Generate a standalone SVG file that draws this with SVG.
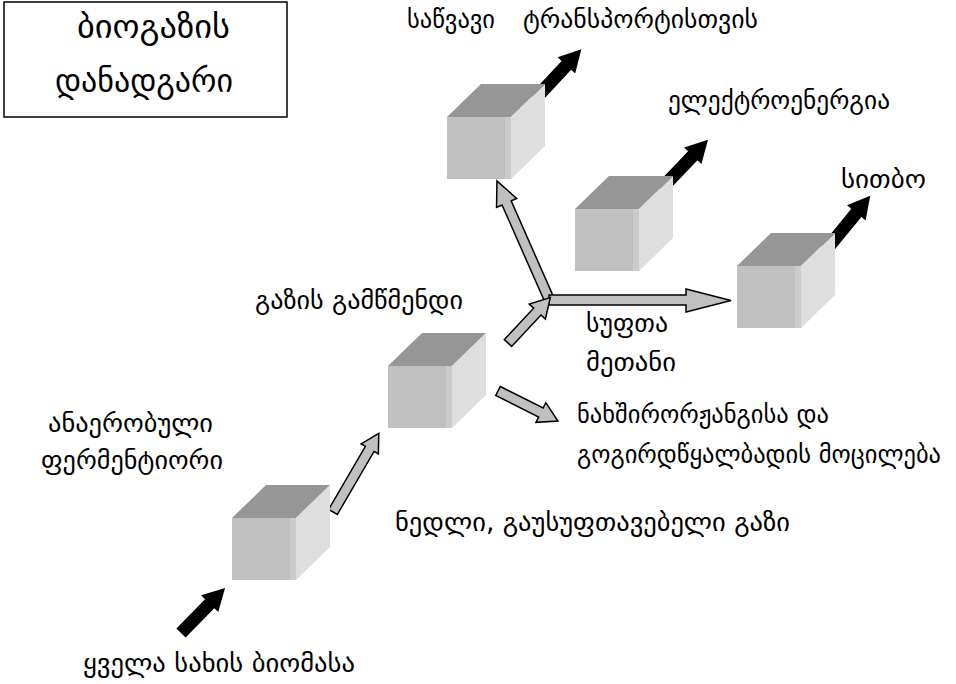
<svg xmlns="http://www.w3.org/2000/svg" xmlns:xlink="http://www.w3.org/1999/xlink" width="956" height="684" viewBox="0 0 956 684">
<style>
text{font-family:"DejaVu Sans","Noto Sans",sans-serif;font-size:26px;fill:#000}
.title{font-size:33px}
.long{font-size:24.5px}
.ga{fill:#c0c0c0;stroke:#000;stroke-width:1.5;stroke-linejoin:miter}
.ba{fill:#000}
.top{fill:#969696}
.front{fill:#c0c0c0}
.bevel{fill:#cbcbcb}
.right{fill:#dedede}
</style>
<defs>
<g id="cube">
<polygon class="top" points="0,0 34,-33 98,-33 64,0"/>
<rect class="front" x="0" y="0" width="64" height="62"/>
<rect class="bevel" x="58" y="0" width="6" height="62"/>
<polygon class="right" points="64,0 98,-33 98,29 64,62"/>
</g>
</defs>
<rect id="title-box" x="4" y="2" width="283" height="115" fill="#fff" stroke="#000" stroke-width="1.5"/>
<g id="title">
<text class="title" x="77" y="38" textLength="153" lengthAdjust="spacingAndGlyphs">ბიოგაზის</text>
<text class="title" x="55" y="92" textLength="178" lengthAdjust="spacingAndGlyphs">დანადგარი</text>
</g>
<g id="connectors">
<polygon class="ba" transform="translate(181,633) rotate(-45.6)" points="0,-6.5 41,-6.5 41,-12 63,0 41,12 41,6.5 0,6.5"/>
<polygon class="ba" transform="translate(535,99) rotate(-47)" points="0,-6.5 46,-6.5 46,-12 68,0 46,12 46,6.5 0,6.5"/>
<polygon class="ba" transform="translate(661,189) rotate(-46.3)" points="0,-6.5 46,-6.5 46,-12 68,0 46,12 46,6.5 0,6.5"/>
<polygon class="ba" transform="translate(826,250) rotate(-50.8)" points="0,-6.5 48,-6.5 48,-12 70,0 48,12 48,6.5 0,6.5"/>
<polygon class="ga" transform="translate(333,512) rotate(-59.8)" points="0,-5 73,-5 73,-10 91,0 73,10 73,5 0,5"/>
<polygon class="ga" transform="translate(498,391) rotate(26.6)" points="0,-5 48,-5 48,-11 67,0 48,11 48,5 0,5"/>
<polygon class="ga" transform="translate(549,299) rotate(-113.8)" points="0,-5 105,-5 105,-11 129,0 105,11 105,5 0,5"/>
<polygon class="ga" points="549,295 686,295 686,289 731,300.5 686,312 686,305 549,305"/>
<polygon class="ga" transform="translate(508,343) rotate(-47)" points="0,-5 43,-5 43,-11 62,0 43,11 43,5 0,5"/>
</g>
<g id="node-biomass-cube"><use xlink:href="#cube" transform="translate(232,518)"/></g>
<g id="node-purifier-cube"><use xlink:href="#cube" transform="translate(388,366)"/></g>
<g id="node-fuel-cube"><use xlink:href="#cube" transform="translate(447,117)"/></g>
<g id="node-electricity-cube"><use xlink:href="#cube" transform="translate(575,209)"/></g>
<g id="node-heat-cube"><use xlink:href="#cube" transform="translate(737,266)"/></g>
<g id="labels">
<text x="407" y="28" textLength="88" lengthAdjust="spacingAndGlyphs">საწვავი</text>
<text x="523" y="28" textLength="235" lengthAdjust="spacingAndGlyphs">ტრანსპორტისთვის</text>
<text x="668" y="109" textLength="222" lengthAdjust="spacingAndGlyphs">ელექტროენერგია</text>
<text x="841" y="188" textLength="85" lengthAdjust="spacingAndGlyphs">სითბო</text>
<text x="255" y="309" textLength="208" lengthAdjust="spacingAndGlyphs">გაზის გამწმენდი</text>
<text x="586" y="332" textLength="82" lengthAdjust="spacingAndGlyphs">სუფთა</text>
<text x="586" y="371" textLength="90" lengthAdjust="spacingAndGlyphs">მეთანი</text>
<text x="577" y="423" textLength="252" lengthAdjust="spacingAndGlyphs">ნახშირორჟანგისა და</text>
<text class="long" x="577" y="463" textLength="364" lengthAdjust="spacingAndGlyphs">გოგირდწყალბადის მოცილება</text>
<text x="48" y="432" textLength="165" lengthAdjust="spacingAndGlyphs">ანაერობული</text>
<text x="41" y="469" textLength="182" lengthAdjust="spacingAndGlyphs">ფერმენტიორი</text>
<text x="395" y="531" textLength="395" lengthAdjust="spacingAndGlyphs">ნედლი, გაუსუფთავებელი გაზი</text>
<text x="83" y="672" textLength="272" lengthAdjust="spacingAndGlyphs">ყველა სახის ბიომასა</text>
</g>
</svg>
